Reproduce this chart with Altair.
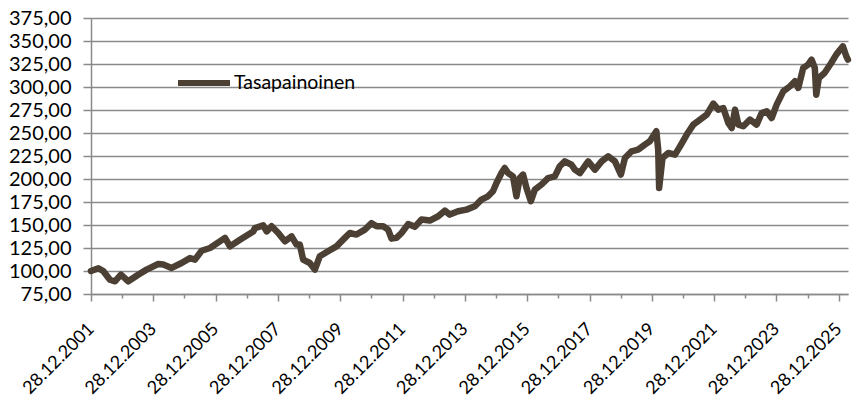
import altair as alt
import pandas as pd

# Dates and index values
dates = [
    "2001-12-28", "2002-03-25", "2002-05-20", "2002-08-07", "2002-10-05", "2002-12-14",
    "2003-03-10", "2003-07-04", "2003-10-10", "2004-02-24", "2004-04-23", "2004-07-30",
    "2004-11-24", "2005-03-02", "2005-04-30", "2005-07-17", "2005-10-23", "2006-04-17",
    "2006-06-14", "2006-10-09", "2007-03-14", "2007-04-03", "2007-07-09", "2007-08-18",
    "2007-10-15", "2008-01-01", "2008-03-19", "2008-06-05", "2008-08-02", "2008-09-10",
    "2008-10-19", "2009-01-05", "2009-03-05", "2009-05-02", "2009-08-07", "2009-11-14",
    "2010-02-20", "2010-04-19", "2010-07-06", "2010-10-12", "2010-12-30", "2011-02-27",
    "2011-05-15", "2011-07-12", "2011-08-21", "2011-10-18", "2011-12-16", "2012-03-03",
    "2012-05-20", "2012-08-07", "2012-11-12", "2013-02-18", "2013-05-07", "2013-07-04",
    "2013-10-09", "2014-01-16", "2014-04-23", "2014-07-10", "2014-09-25", "2014-11-22",
    "2015-01-02", "2015-03-02", "2015-04-09", "2015-05-18", "2015-07-15", "2015-08-24",
    "2015-10-02", "2015-11-10", "2015-12-20", "2016-02-09", "2016-03-27", "2016-06-13",
    "2016-08-29", "2016-11-16", "2017-01-13", "2017-03-13", "2017-05-31", "2017-07-09",
    "2017-09-06", "2017-12-12", "2018-03-01", "2018-05-19", "2018-08-04", "2018-10-22",
    "2018-12-31", "2019-02-16", "2019-05-05", "2019-07-21", "2019-10-08", "2019-12-05",
    "2020-02-19", "2020-03-12", "2020-03-23", "2020-05-01", "2020-07-08", "2020-09-25",
    "2020-11-23", "2021-02-10", "2021-04-28", "2021-07-16", "2021-10-02", "2021-12-18",
    "2022-02-15", "2022-04-14", "2022-06-12", "2022-07-22", "2022-08-30", "2022-10-08",
    "2022-12-05", "2023-02-21", "2023-05-10", "2023-07-08", "2023-09-05", "2023-11-02",
    "2023-12-31", "2024-03-17", "2024-06-04", "2024-08-01", "2024-09-09", "2024-11-06",
    "2025-01-03", "2025-02-12", "2025-03-22", "2025-04-08", "2025-05-08", "2025-07-14",
    "2025-09-30", "2025-11-28", "2026-02-14", "2026-03-26", "2026-04-14",
]
values = [
    100.0, 103.0, 100.0, 90.5, 88.8, 96.0,
    88.8, 96.0, 101.5, 107.6, 107.0, 103.3,
    108.7, 114.0, 112.4, 122.0, 125.0, 136.0,
    126.8, 134.0, 143.0, 146.7, 149.6, 143.0,
    148.6, 141.3, 132.3, 137.7, 128.7, 128.7,
    112.4, 108.7, 101.5, 116.0, 121.4, 126.8,
    136.0, 141.3, 139.6, 145.0, 152.0, 148.6,
    148.6, 145.0, 135.2, 136.0, 141.3, 151.0,
    148.0, 155.9, 154.8, 159.5, 165.6, 161.3,
    164.9, 166.7, 170.3, 177.6, 181.2, 186.6,
    195.6, 206.5, 212.0, 206.5, 202.9, 181.2,
    201.0, 204.8, 190.2, 175.8, 188.5, 194.0,
    201.0, 202.9, 213.8, 219.2, 215.5, 210.2,
    206.5, 219.2, 210.2, 219.2, 224.7, 219.2,
    204.8, 222.8, 230.1, 231.9, 237.4, 241.0,
    252.0, 231.9, 190.2, 222.8, 228.3, 226.5,
    235.5, 248.3, 259.1, 264.6, 270.0, 282.0,
    275.4, 277.2, 261.0, 255.4, 275.4, 259.1,
    257.3, 264.6, 259.1, 271.7, 273.6, 266.3,
    280.9, 295.3, 300.8, 306.2, 299.0, 320.7,
    324.3, 329.8, 320.7, 291.7, 309.8, 315.2,
    326.1, 335.2, 344.2, 333.4, 329.8,
]
series_name = "Tasapainoinen"
y_ticks = [75, 100, 125, 150, 175, 200, 225, 250, 275, 300, 325, 350, 375]
tick_years = list(range(2001, 2026))

df = pd.DataFrame({"date": dates, "value": values, "series": series_name})

FONT = "Lato"
GRID = "#8a8a8a"
LINE = "#4c4034"

x_axis = alt.Axis(
    values=[alt.DateTime(year=y, month=12, date=28, utc=True) for y in tick_years],
    labelExpr="utcyear(datum.value) % 2 == 1 ? utcFormat(datum.value, '%d.%m.%Y') : ''",
    labelAngle=-45,
    labelAlign="right",
    labelBaseline="middle",
    labelPadding=25,
    labelFont=FONT,
    labelFontSize=18,
    labelColor="#000000",
    labelOverlap=False,
    tickColor=GRID,
    tickWidth=1.5,
    tickSize=alt.condition("utcyear(datum.value) % 2 == 1", alt.value(7), alt.value(4)),
    domainColor=GRID,
    domainWidth=1.5,
    grid=False,
    title=None,
)

y_axis = alt.Axis(
    values=y_ticks,
    labelExpr="replace(format(datum.value, '.2f'), '.', ',')",
    labelFont=FONT,
    labelFontSize=20,
    labelColor="#000000",
    labelPadding=12,
    tickColor=GRID,
    tickWidth=1.5,
    tickSize=8,
    domainColor=GRID,
    domainWidth=1.5,
    gridColor=GRID,
    gridWidth=1.5,
    title=None,
)

chart = (
    alt.Chart(df)
    .mark_line(strokeWidth=6.5, strokeJoin="round", strokeCap="round")
    .encode(
        x=alt.X(
            "date:T",
            scale=alt.Scale(
                type="utc",
                domain=[
                    alt.DateTime(year=2001, month=12, date=28, utc=True),
                    alt.DateTime(year=2026, month=4, date=15, utc=True),
                ],
                nice=False,
            ),
            axis=x_axis,
        ),
        y=alt.Y("value:Q", scale=alt.Scale(domain=[75, 375], nice=False, zero=False), axis=y_axis),
        color=alt.Color(
            "series:N",
            scale=alt.Scale(range=[LINE]),
            legend=alt.Legend(
                title=None,
                orient="none",
                legendX=84,
                legendY=36,
                padding=0,
                symbolType="stroke",
                symbolSize=2704,
                symbolStrokeWidth=6,
                labelFont=FONT,
                labelFontSize=19.5,
                labelColor="#000000",
                labelOffset=1,
            ),
        ),
    )
    .properties(
        width=757,
        height=276,
        autosize=alt.AutoSizeParams(type="none"),
        padding={"left": 83, "top": 10, "right": 4, "bottom": 107},
    )
    .configure_view(stroke=None)
)

chart.save("out.html", embed_options={"renderer": "svg", "actions": False})
